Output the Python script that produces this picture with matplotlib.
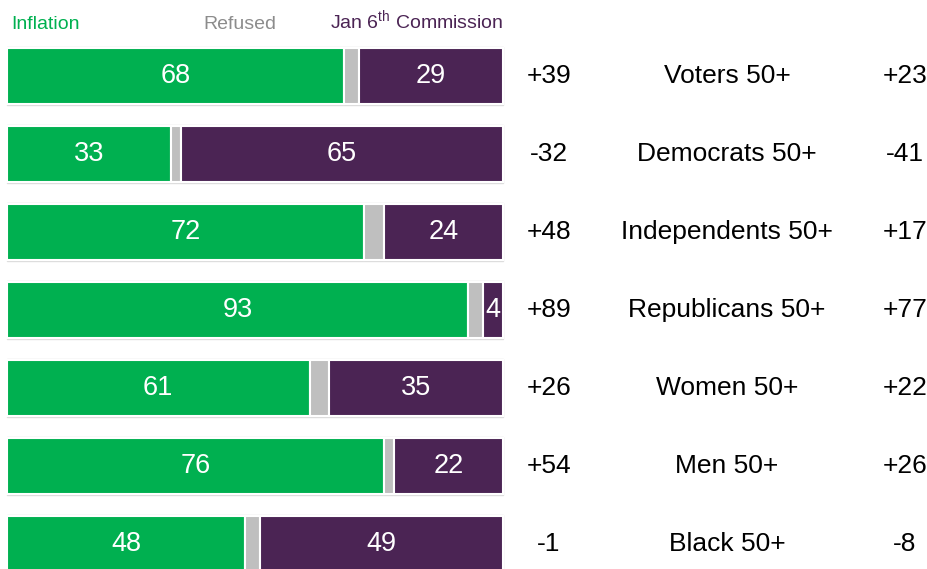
import matplotlib
matplotlib.use("Agg")
import matplotlib.pyplot as plt
from matplotlib import font_manager

groups = ["Voters 50+", "Democrats 50+", "Independents 50+", "Republicans 50+",
          "Women 50+", "Men 50+", "Black 50+"]
inflation = [68, 33, 72, 93, 61, 76, 48]
jan6 = [29, 65, 24, 4, 35, 22, 49]
refused = [100 - a - b for a, b in zip(inflation, jan6)]
margin = ["+39", "-32", "+48", "+89", "+26", "+54", "-1"]
other_margin = ["+23", "-41", "+17", "+77", "+22", "+26", "-8"]

GREEN = "#00B050"
GRAY = "#BFBFBF"
PURPLE = "#4B2454"

def pick_font(names):
    for n in names:
        try:
            font_manager.findfont(n, fallback_to_default=False)
            return n
        except Exception:
            pass
    return "DejaVu Sans"

main_font = pick_font(["Liberation Sans", "Arial"])
narrow_font = pick_font(["Liberation Sans Narrow", "Arial Narrow"])
legend_fs = 16 if narrow_font != "DejaVu Sans" else 14
if narrow_font == "DejaVu Sans":
    narrow_font = main_font

plt.rcParams["font.family"] = [main_font, "DejaVu Sans"]
plt.rcParams["mathtext.fontset"] = "custom"
plt.rcParams["mathtext.rm"] = narrow_font

W, H = 928, 569
fig = plt.figure(figsize=(W / 100, H / 100), dpi=100)
ax = fig.add_axes([0, 0, 1, 1])

px = 4.96          # pixels per percentage point
x0 = 7             # left edge of bars in pixels
ax.set_xlim(-x0 / px, (W - x0) / px)
row_pitch = 78
first_center = 76
ax.set_ylim((H - first_center) / row_pitch, -first_center / row_pitch)
ax.axis("off")

ys = list(range(len(groups)))
h = 0.73
ax.barh(ys, [100] * len(ys), height=h + 0.02, color="none", edgecolor="#dcdcdc", linewidth=1.0)
ax.barh(ys, inflation, height=h, color=GREEN, edgecolor="white", linewidth=1.5)
ax.barh(ys, refused, left=inflation, height=h, color=GRAY, edgecolor="white", linewidth=1.5)
left_j = [a + b for a, b in zip(inflation, refused)]
ax.barh(ys, jan6, left=left_j, height=h, color=PURPLE, edgecolor="white", linewidth=1.5)

fs = 19
for y, a, r, b in zip(ys, inflation, refused, jan6):
    ax.text(a / 2, y, str(a), color="white", fontsize=fs + 0.5, ha="center", va="center")
    ax.text(a + r + b / 2, y, str(b), color="white", fontsize=fs + 0.5, ha="center", va="center")

col1 = (549 - x0) / px
col2 = (727 - x0) / px
col3 = (905 - x0) / px
for y, m, g, o in zip(ys, margin, groups, other_margin):
    ax.text(col1, y, m, fontsize=fs, ha="center", va="center", color="black")
    ax.text(col2, y, g, fontsize=fs, ha="center", va="center", color="black")
    ax.text(col3, y, o, fontsize=fs, ha="center", va="center", color="black")

# legend labels sit on a common baseline
ly = (29 - first_center) / row_pitch
ax.text((11 - x0) / px, ly, "Inflation", fontsize=legend_fs, family=narrow_font,
        color=GREEN, ha="left", va="baseline")
ax.text((240 - x0) / px, ly, "Refused", fontsize=legend_fs, family=narrow_font,
        color="#8C8C8C", ha="center", va="baseline")
ax.text(100, ly, r"Jan 6$^{\mathrm{th}}$ Commission", fontsize=legend_fs, family=narrow_font,
        color=PURPLE, ha="right", va="baseline")

fig.savefig("out.png", dpi=100)
